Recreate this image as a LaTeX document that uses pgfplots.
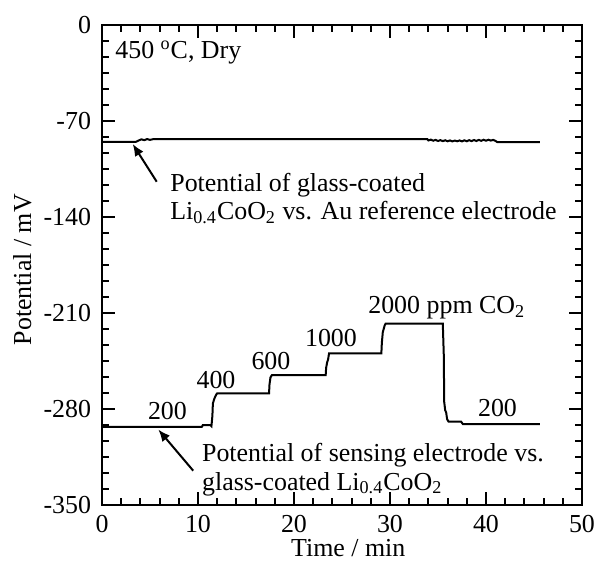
\documentclass[border=0pt]{standalone}
\usepackage{fontspec}
\setmainfont{Liberation Serif}
\usepackage{pgfplots}
\pgfplotsset{compat=1.18}
\usetikzlibrary{arrows.meta}
\begin{document}%
\fontsize{13}{15.6}\selectfont%
\begin{tikzpicture}
\begin{axis}[
  width=240bp, height=240bp, scale only axis,
  xmin=0, xmax=50, ymin=-350, ymax=0,
  xtick={0,10,...,50}, ytick={-350,-280,-210,-140,-70,0},
  minor x tick num=4, minor y tick num=5,
  tick align=inside, major tick length=6.3bp, minor tick length=3.3bp,
  axis line style={line width=1.3bp},
  every tick/.style={line width=1bp, black},
  /pgf/number format/assume math mode=true,
  xticklabel style={inner xsep=0pt, inner ysep=5bp},
  yticklabel style={inner xsep=5.3bp, inner ysep=0pt},
  xlabel={Time / min}, ylabel={Potential / mV},
  xlabel style={at={(rel axis cs:0.513,-0.1065)}, anchor=base, inner sep=0pt},
  ylabel style={at={(rel axis cs:-0.166,0.49)}, anchor=center, inner sep=0pt},
  clip=false,
]
\addplot[black, line width=1bp] coordinates {
(0,-85.3) (3.5,-85.3) (3.8,-84.3) (4.1,-83.4) (4.4,-84.0) (4.7,-83.2) (5.0,-83.8) (5.3,-83.3) (6,-83.3)
(33.9,-83.3) (34.0,-84.2) (34.25,-83.6) (34.5,-84.4) (34.75,-83.8) (35.0,-84.6) (35.25,-84.0)
(35.5,-84.7) (35.75,-84.1) (36.0,-84.8) (36.25,-84.2) (36.5,-84.9) (36.75,-84.3) (37.0,-84.8)
(37.25,-84.2) (37.5,-84.9) (37.75,-84.1) (38.0,-84.8) (38.25,-84.0) (38.5,-84.7) (38.75,-83.9)
(39.0,-84.6) (39.25,-83.8) (39.5,-84.5) (39.75,-83.7) (40.0,-84.4) (40.25,-83.7) (40.5,-84.3)
(40.75,-83.8) (41.0,-84.6) (41.2,-85.5) (45.6,-85.5)
};
\addplot[black, line width=1bp] coordinates {
(0,-293) (10.4,-293) (10.5,-291.8) (11.3,-291.8) (11.4,-292.5) (11.5,-285) (11.55,-276)
(11.7,-272.5) (11.9,-269.5) (12.0,-268.6) (17.4,-268.6) (17.45,-262) (17.55,-257)
(17.7,-255.3) (23.3,-255.3) (23.35,-250) (23.45,-246) (23.55,-244) (23.65,-239.5)
(29.1,-239.5) (29.15,-232) (29.25,-224) (29.45,-219) (29.55,-217.7) (35.5,-217.7)
(35.6,-240) (35.65,-275) (35.75,-281) (35.85,-282.5) (35.95,-287.5) (36.1,-289.2)
(37.4,-289.2) (37.6,-291.1) (45.6,-291.1)
};
\node[anchor=base west, inner sep=0pt] at (axis cs:1.35,-24.3) {450 \textsuperscript{o}C, Dry};
\node[anchor=base west, inner sep=0pt] at (axis cs:7.08,-121.5) {Potential of glass-coated};
\node[anchor=base west, inner sep=0pt] at (axis cs:7.08,-142.2) {Li\textsubscript{0.4}CoO\textsubscript{2} vs. Au reference electrode};
\node[anchor=base west, inner sep=0pt] at (axis cs:10.39,-318.4) {Potential of sensing electrode vs.};
\node[anchor=base west, inner sep=0pt] at (axis cs:10.39,-339.1) {glass-coated Li\textsubscript{0.4}CoO\textsubscript{2}};
\node[anchor=base, inner sep=0pt] at (axis cs:6.82,-288.0) {200};
\node[anchor=base, inner sep=0pt] at (axis cs:41.2,-285.6) {200};
\node[anchor=base, inner sep=0pt] at (axis cs:11.875,-264.9) {400};
\node[anchor=base, inner sep=0pt] at (axis cs:17.6,-251.1) {600};
\node[anchor=base, inner sep=0pt] at (axis cs:23.85,-234.6) {1000};
\node[anchor=base west, inner sep=0pt] at (axis cs:27.7,-210.2) {2000 ppm CO\textsubscript{2}};
\draw[line width=1bp, -{Latex[length=6bp, width=5bp]}] (axis cs:5.7,-114.3) -- (axis cs:3.2,-86.8);
\draw[line width=1bp, -{Latex[length=6bp, width=5bp]}] (axis cs:9.5,-325) -- (axis cs:5.87,-295.0);
\coordinate (bl) at (rel axis cs:-0.2125,-0.11875);
\coordinate (tr) at (rel axis cs:1.03125,1.052);
\end{axis}
\path (bl) rectangle (tr);
\end{tikzpicture}%
\end{document}
